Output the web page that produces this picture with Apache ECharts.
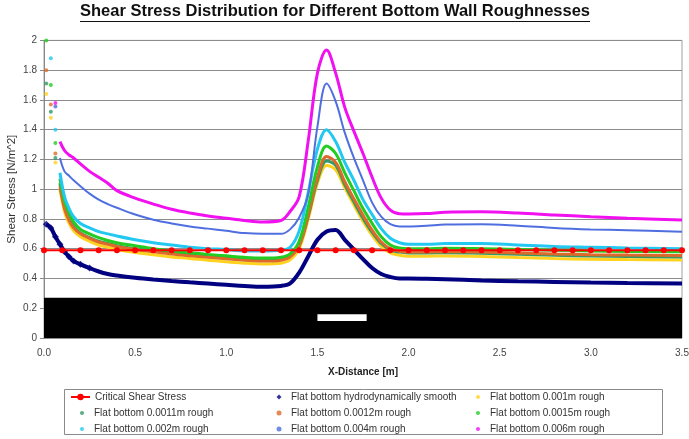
<!DOCTYPE html>
<html><head><meta charset="utf-8">
<script src="https://cdn.jsdelivr.net/npm/echarts@6/dist/echarts.min.js"></script>
<style>html,body{margin:0;padding:0;background:#fff}#c{width:689px;height:439px}</style>
</head><body><div id="c"></div>
<script>
// ---------------- DATA ----------------
const titleText = 'Shear Stress Distribution for Different Bottom Wall Roughnesses';
const xAxisName = 'X-Distance [m]';
const yAxisName = 'Shear Stress [N/m^2]';
const seriesNames = [
  'Critical Shear Stress',
  'Flat bottom hydrodynamically smooth',
  'Flat bottom 0.001m rough',
  'Flat bottom 0.0011m rough',
  'Flat bottom 0.0012m rough',
  'Flat bottom 0.0015m rough',
  'Flat bottom 0.002m rough',
  'Flat bottom 0.004m rough',
  'Flat bottom 0.006m rough'
];

// critical shear stress (constant)
const critX = [0,0.1,0.2,0.3,0.4,0.5,0.6,0.7,0.8,0.9,1.0,1.1,1.2,1.3,1.4,1.5,1.6,1.7,1.8,1.9,2.0,2.1,2.2,2.3,2.4,2.5,2.6,2.7,2.8,2.9,3.0,3.1,3.2,3.3,3.4,3.5];
const critY = [0.59,0.59,0.59,0.59,0.59,0.59,0.59,0.59,0.59,0.59,0.59,0.59,0.59,0.59,0.59,0.59,0.59,0.59,0.59,0.59,0.59,0.59,0.59,0.59,0.59,0.59,0.59,0.59,0.59,0.59,0.59,0.59,0.59,0.59,0.59,0.59];

// near-wall nodes (isolated points)
const wallX = [0.0125, 0.0375, 0.0625];
const wall001  = [1.64, 1.48, 1.18];
const wall0011 = [1.71, 1.52, 1.21];
const wall0012 = [1.80, 1.57, 1.24];
const wall0015 = [2.00, 1.70, 1.31];
const wall002  = [null, 1.88, 1.40];
const wall004  = [null, null, 1.555];
const wall006  = [null, null, 1.58];

// main profile nodes
const lineX = [0.0875,0.1125,0.1375,0.1625,0.2,0.25,0.3,0.35,0.4,0.5,0.6,0.7,0.8,0.9,1.0,1.1,1.2,1.3,1.35,1.4,1.45,1.5,1.55,1.6,1.65,1.7,1.75,1.8,1.85,1.9,1.95,2.0,2.1,2.2,2.4,2.6,2.8,3.0,3.2,3.5];
const smoothX = [0.0125,0.0375,0.0625].concat(lineX);
const smoothY = [0.764,0.74,0.68,0.63,0.58,0.546,0.517,0.495,0.47,0.447,0.43,0.42,0.405,0.393,0.383,0.374,0.366,0.358,0.35,0.345,0.35,0.367,0.44,0.55,0.66,0.715,0.725,0.66,0.595,0.53,0.47,0.43,0.41,0.40,0.40,0.398,0.395,0.387,0.381,0.377,0.373,0.37,0.367];
const line001  = [1.00,0.85,0.77,0.72,0.68,0.65,0.625,0.61,0.595,0.575,0.56,0.545,0.535,0.522,0.512,0.503,0.498,0.503,0.525,0.60,0.80,1.04,1.16,1.13,1.01,0.895,0.785,0.69,0.615,0.572,0.556,0.55,0.55,0.551,0.548,0.541,0.534,0.53,0.527,0.525];
const line0011 = [1.04,0.88,0.80,0.75,0.705,0.675,0.65,0.635,0.62,0.60,0.585,0.57,0.558,0.547,0.537,0.527,0.522,0.528,0.55,0.62,0.82,1.06,1.19,1.16,1.03,0.915,0.805,0.71,0.635,0.592,0.577,0.572,0.572,0.573,0.57,0.563,0.556,0.551,0.548,0.545];
const line0012 = [1.02,0.87,0.79,0.74,0.70,0.67,0.645,0.63,0.615,0.595,0.58,0.565,0.553,0.542,0.532,0.522,0.517,0.523,0.545,0.62,0.83,1.08,1.22,1.18,1.05,0.935,0.825,0.725,0.645,0.60,0.582,0.578,0.578,0.58,0.578,0.572,0.565,0.56,0.557,0.555];
const line0015 = [1.07,0.92,0.84,0.78,0.73,0.70,0.675,0.655,0.64,0.62,0.60,0.585,0.573,0.562,0.552,0.542,0.537,0.543,0.565,0.65,0.88,1.15,1.29,1.24,1.11,0.99,0.87,0.77,0.68,0.625,0.605,0.60,0.60,0.603,0.60,0.595,0.59,0.585,0.582,0.58];
const line002  = [1.11,0.95,0.87,0.815,0.77,0.74,0.715,0.70,0.685,0.66,0.64,0.625,0.61,0.60,0.595,0.585,0.585,0.59,0.61,0.72,0.98,1.27,1.40,1.32,1.18,1.06,0.93,0.83,0.735,0.67,0.64,0.63,0.63,0.635,0.635,0.625,0.615,0.61,0.605,0.60];
const line004  = [1.21,1.12,1.09,1.06,1.02,0.97,0.93,0.90,0.875,0.83,0.795,0.77,0.75,0.735,0.72,0.705,0.70,0.70,0.73,0.81,0.97,1.42,1.71,1.59,1.38,1.21,1.06,0.91,0.815,0.765,0.75,0.75,0.755,0.762,0.765,0.755,0.74,0.73,0.724,0.714];
const line006  = [1.32,1.26,1.23,1.21,1.17,1.12,1.08,1.04,0.99,0.94,0.90,0.865,0.84,0.82,0.805,0.79,0.78,0.79,0.85,0.95,1.33,1.78,1.935,1.78,1.55,1.39,1.24,1.08,0.94,0.86,0.835,0.833,0.836,0.845,0.848,0.84,0.827,0.815,0.805,0.793];

// bed obstacle (black) and slot (white)
const bedX = [0, 3.5];
const bedY = [0, 0.27];
const slotX = [1.5, 1.77];
const slotY = [0.115, 0.16];

// ---------------- CHART ----------------
const FONT = "'Liberation Sans', Arial, sans-serif";
const colors = ['#ff0000','#000080','#ffd21f','#339966','#dd6a2a','#22cc22','#22c8f0','#4f6fe0','#f010f0'];
const widths = [2, 4, 3, 3, 3, 3, 3, 2, 3];
const wallSets = [null, null, wall001, wall0011, wall0012, wall0015, wall002, wall004, wall006];
const lineSets = [null, null, line001, line0011, line0012, line0015, line002, line004, line006];
const NEAR_WALL_COUNT = 9; // navy points drawn as discrete diamonds
const DIAMOND_ICON = 'path://M0,-1L1,0L0,1L-1,0Z';

function pairs(xs, ys) {
  const out = [];
  xs.forEach((x, i) => { if (ys[i] != null) out.push([x, ys[i]]); });
  return out;
}

const series = [];
series.push({
  name: seriesNames[1], type: 'scatter',
  data: pairs(smoothX.slice(0, NEAR_WALL_COUNT), smoothY.slice(0, NEAR_WALL_COUNT)),
  color: colors[1], itemStyle: {color: colors[1]}, symbol: 'diamond', symbolSize: 7, z: 3
});
series.push({
  name: seriesNames[1], type: 'line', data: pairs(smoothX, smoothY), smooth: 0.35,
  color: colors[1], lineStyle: {width: widths[1], color: colors[1]},
  itemStyle: {color: colors[1]}, showSymbol: false, z: 3
});
for (let k = 2; k < 9; k++) {
  series.push({
    name: seriesNames[k], type: 'scatter', data: pairs(wallX, wallSets[k]),
    color: colors[k], itemStyle: {color: colors[k]}, symbol: 'circle', symbolSize: 4, z: 3 + k
  });
  series.push({
    name: seriesNames[k], type: 'line', data: pairs(lineX, lineSets[k]), smooth: 0.35,
    color: colors[k], lineStyle: {width: widths[k], color: colors[k]}, itemStyle: {color: colors[k]},
    showSymbol: false, z: 3 + k
  });
}
series.push({
  name: seriesNames[0], type: 'line', data: pairs(critX, critY),
  color: colors[0], lineStyle: {width: widths[0], color: colors[0]},
  symbol: 'circle', symbolSize: 6, showAllSymbol: true, z: 20,
  itemStyle: {color: colors[0]},
  markArea: {
    silent: true, z: 1,
    data: [
      [{coord: [bedX[0], bedY[0]], itemStyle: {color: '#000', opacity: 1}}, {coord: [bedX[1], bedY[1]]}],
      [{coord: [slotX[0], slotY[0]], itemStyle: {color: '#fff', opacity: 1}}, {coord: [slotX[1], slotY[1]]}]
    ]
  }
});

// title underline width
const cvs = document.createElement('canvas').getContext('2d');
const titleSize = 16.5;
cvs.font = 'bold ' + titleSize + 'px ' + FONT;
const titleW = cvs.measureText(titleText).width;
const titleLeft = 80;

const legendBase = {
  orient: 'vertical', padding: 0, itemGap: 4, selectedMode: false,
  itemWidth: 14, itemHeight: 4, symbolKeepAspect: true,
  textStyle: {fontSize: 10, color: '#333', fontFamily: FONT, lineHeight: 12}
};

const option = {
  animation: false,
  backgroundColor: '#fff',
  title: {
    text: titleText, left: titleLeft, top: 3, padding: 0,
    textStyle: {fontSize: titleSize, fontWeight: 'bold', color: '#111', fontFamily: FONT}
  },
  graphic: [
    {type: 'line', shape: {x1: titleLeft, y1: 21.5, x2: titleLeft + titleW, y2: 21.5}, style: {stroke: '#111', lineWidth: 1.2}},
    {type: 'rect', shape: {x: 64.5, y: 389.5, width: 598, height: 45}, style: {fill: 'none', stroke: '#8a8a8a', lineWidth: 1}}
  ],
  grid: {left: 44, right: 7, top: 40.4, bottom: 101, show: true, borderColor: '#a0a0a0', borderWidth: 1, containLabel: false, outerBoundsMode: 'none'},
  xAxis: {
    type: 'value', min: 0, max: 3.5, interval: 0.5,
    name: xAxisName, nameLocation: 'middle', nameGap: 29,
    nameTextStyle: {fontSize: 10, fontWeight: 'bold', color: '#222', fontFamily: FONT},
    axisLine: {show: false}, axisTick: {show: false}, splitLine: {show: false},
    axisLabel: {fontSize: 10, color: '#444', margin: 10, fontFamily: FONT, formatter: (v) => v.toFixed(1)}
  },
  yAxis: {
    type: 'value', min: 0, max: 2, interval: 0.2,
    name: yAxisName, nameLocation: 'middle', nameGap: 26, nameRotate: 90, nameMoveOverlap: false,
    nameTextStyle: {fontSize: 11.5, color: '#333', fontFamily: FONT},
    axisLine: {show: true, lineStyle: {color: '#888', width: 1}},
    axisTick: {show: true, inside: false, length: 4, lineStyle: {color: '#888'}},
    splitLine: {show: true, lineStyle: {color: '#8c8c8c', width: 1}},
    axisLabel: {fontSize: 10, color: '#444', margin: 7, fontFamily: FONT}
  },
  legend: [
    Object.assign({}, legendBase, {left: 70, top: 391, itemWidth: 19, itemHeight: 8, data: [{name: seriesNames[0]}]}),
    Object.assign({}, legendBase, {left: 80, top: 407, data: [{name: seriesNames[3], icon: 'circle'}, {name: seriesNames[6], icon: 'circle'}]}),
    Object.assign({}, legendBase, {left: 276.5, top: 391, itemHeight: 5, data: [{name: seriesNames[1], icon: DIAMOND_ICON}, {name: seriesNames[4], icon: 'circle'}, {name: seriesNames[7], icon: 'circle'}]}),
    Object.assign({}, legendBase, {left: 476, top: 391, data: [{name: seriesNames[2], icon: 'circle'}, {name: seriesNames[5], icon: 'circle'}, {name: seriesNames[8], icon: 'circle'}]})
  ],
  series: series
};

const chart = echarts.init(document.getElementById('c'), null, {renderer: 'canvas'});
chart.setOption(option);
</script>
</body></html>
